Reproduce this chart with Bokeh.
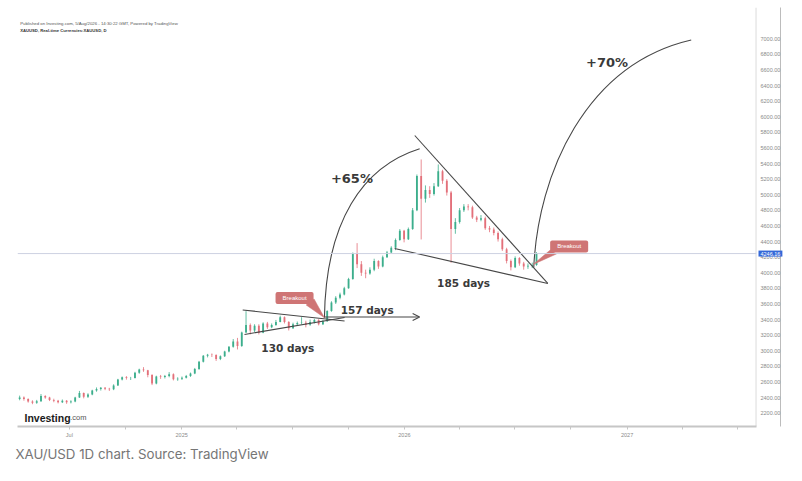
import pandas as pd
from bokeh.plotting import figure
from bokeh.models import (ColumnDataSource, Span, Label, FixedTicker, NumeralTickFormatter,
                          Title, Arrow, OpenHead, Range1d)
from bokeh.embed import file_html
from bokeh.resources import INLINE

# ---------------- data (weekly candles) ----------------
week_start = "2024-04-10 12:00"
first_open = 2380
close = [2400, 2380, 2350, 2335, 2354, 2420, 2400, 2370, 2360, 2341,
         2360, 2340, 2350, 2400, 2460, 2410, 2440, 2490, 2510, 2525,
         2513, 2505, 2555, 2630, 2660, 2650, 2652, 2718, 2760, 2750,
         2690, 2580, 2670, 2665, 2675, 2700, 2635, 2640, 2655, 2675,
         2710, 2765, 2860, 2935, 2950, 2945, 2895, 2930, 2990, 3050,
         3120, 3060, 3235, 3330, 3260, 3320, 3230, 3350, 3300, 3330,
         3370, 3430, 3370, 3290, 3340, 3355, 3360, 3335, 3370, 3395,
         3340, 3380, 3510, 3620, 3680, 3720, 3800, 3920, 4250, 4110,
         4000, 3990, 4040, 4150, 4080, 4200, 4260, 4320, 4420, 4540,
         4430, 4560, 4800, 5240, 4950, 5060, 5010, 5110, 5300, 5180,
         5030, 4560, 4650, 4800, 4850, 4840, 4710, 4680, 4700, 4570,
         4555, 4510, 4430, 4300, 4150, 4070, 4190, 4120, 4080, 4090,
         4100, 4246.16]
high = [2425, 2415, 2390, 2365, 2370, 2445, 2430, 2410, 2385, 2370,
        2375, 2368, 2365, 2410, 2485, 2465, 2455, 2500, 2530, 2535,
        2535, 2525, 2570, 2640, 2670, 2675, 2665, 2730, 2770, 2790,
        2755, 2700, 2680, 2690, 2690, 2726, 2710, 2660, 2670, 2690,
        2720, 2780, 2870, 2945, 2960, 2965, 2955, 2940, 3000, 3060,
        3150, 3165, 3245, 3508, 3350, 3340, 3340, 3365, 3370, 3350,
        3395, 3450, 3440, 3380, 3360, 3375, 3430, 3385, 3400, 3410,
        3405, 3395, 3520, 3635, 3700, 3745, 3820, 3935, 4260, 4380,
        4150, 4040, 4070, 4180, 4160, 4220, 4280, 4340, 4440, 4560,
        4550, 4580, 4830, 5260, 5453, 5120, 5110, 5150, 5389, 5320,
        5200, 5050, 4700, 4830, 4880, 4880, 4860, 4730, 4740, 4720,
        4600, 4580, 4530, 4450, 4320, 4170, 4210, 4200, 4140, 4120,
        4130, 4265]
low = [2365, 2360, 2335, 2315, 2320, 2345, 2385, 2355, 2340, 2325,
       2330, 2320, 2325, 2340, 2395, 2390, 2395, 2430, 2475, 2490,
       2495, 2485, 2495, 2550, 2620, 2630, 2625, 2645, 2705, 2730,
       2660, 2560, 2570, 2640, 2645, 2660, 2620, 2615, 2625, 2645,
       2665, 2700, 2755, 2850, 2915, 2920, 2870, 2880, 2920, 2980,
       3040, 3017, 3050, 3230, 3210, 3240, 3209, 3225, 3280, 3290,
       3320, 3365, 3350, 3260, 3280, 3320, 3340, 3300, 3320, 3350,
       3325, 3330, 3370, 3500, 3600, 3660, 3710, 3795, 3910, 4060,
       3960, 3930, 3975, 4020, 4050, 4070, 4190, 4250, 4290, 4410,
       4390, 4420, 4550, 4790, 4427, 4900, 4960, 4990, 5100, 5140,
       4990, 4128, 4500, 4630, 4780, 4800, 4690, 4650, 4660, 4550,
       4520, 4480, 4400, 4280, 4120, 4030, 4060, 4090, 4040, 4050,
       4060, 4090]
last_price = 4246.16

x_tick_dates = ["2024-07-01", "2024-10-01", "2025-01-01", "2025-04-01", "2025-07-01",
                "2025-10-01", "2026-01-01", "2026-04-01", "2026-07-01", "2026-10-01",
                "2027-01-01", "2027-04-01", "2027-07-01"]
x_tick_labels = ["Jul", "", "2025", "", "", "", "2026", "", "", "", "2027", "", ""]
y_ticks = list(range(2200, 7001, 200))

# annotation geometry (date, price)
tri_top = [("2025-04-11", 3523), ("2025-09-25", 3382)]
tri_bot = [("2025-04-14", 3209), ("2025-09-25", 3427)]
wedge_top = [("2026-01-18", 5760), ("2026-08-24", 3863)]
wedge_bot = [("2025-12-16", 4312), ("2026-08-24", 3863)]
arrow_157 = [("2025-08-23", 3432), ("2026-01-26", 3432)]
arc65 = [("2025-08-23", 3423), ("2025-08-25", 4658), ("2025-10-25", 5363), ("2026-01-26", 5590)]
arc70 = [("2026-08-01", 4068), ("2026-08-08", 5260), ("2026-10-24", 6670), ("2027-04-16", 6985)]
box1 = ("2025-07-05", 3677)
box1_ptr = [("2025-07-24", 3587), ("2025-08-06", 3664), ("2025-08-23", 3423)]
box2 = ("2026-09-28", 4337)
box2_ptr = [("2026-08-28", 4292), ("2026-09-07", 4241), ("2026-07-31", 4107)]
texts = [("+65%", "2025-10-07", 5209, "13px"), ("+70%", "2026-11-29", 6696, "13px"),
         ("130 days", "2025-06-24", 3039, "10.5px"), ("157 days", "2025-11-01", 3517, "10.5px"),
         ("185 days", "2026-04-08", 3869, "10.5px")]
pane_edge = "2027-07-31 12:00"


def ms(s):
    return pd.Timestamp(s).value / 1e6


# ---------------- figure ----------------
p = figure(width=793, height=472, output_backend="svg", toolbar_location=None,
           x_axis_type="datetime", y_axis_location="right",
           x_range=Range1d(ms("2024-04-07"), ms("2027-08-01")),
           y_range=Range1d(2029, 7401),
           min_border_left=17, min_border_right=37, min_border_top=7, min_border_bottom=46)
p.outline_line_color = None
p.grid.visible = False
p.background_fill_color = "white"
p.border_fill_color = "white"

# axes
xa = p.xaxis[0]
tick_ms = [ms(d) for d in x_tick_dates]
xa.ticker = FixedTicker(ticks=tick_ms)
xa.major_label_overrides = {t: l for t, l in zip(tick_ms, x_tick_labels)}
xa.axis_line_color = "#c6c6c6"
xa.axis_line_width = 2
xa.major_tick_line_color = "#c6c6c6"
xa.major_tick_out = 3
xa.major_tick_in = 0
xa.minor_tick_line_color = None
xa.major_label_text_font_size = "5.5px"
xa.major_label_text_color = "#8a8a8a"
xa.major_label_standoff = 2

# price scale: the axis sits on the outer edge of the scale strip,
# its labels are pulled back into the strip
ya = p.yaxis[0]
ya.ticker = FixedTicker(ticks=y_ticks)
ya.formatter = NumeralTickFormatter(format="0.00")
ya.axis_line_color = "#bcbcbc"
ya.major_tick_line_color = None
ya.major_tick_out = 0
ya.major_tick_in = 0
ya.minor_tick_line_color = None
ya.major_label_text_font_size = "5.5px"
ya.major_label_text_color = "#8a8a8a"
ya.major_label_standoff = -20

# pane border next to the price scale
p.add_layout(Span(location=ms(pane_edge), dimension="height", line_color="#c8c8c8", line_width=1))

# last price line
p.add_layout(Span(location=last_price, dimension="width", line_color="#cdd2e2", line_width=1))

# candles
dates = pd.date_range(week_start, periods=len(close), freq="7D")
opens = [first_open] + close[:-1]
up = "#3cae8c"
down = "#e3707a"
colors = [up if c >= o else down for o, c in zip(opens, close)]
src = ColumnDataSource(dict(date=dates, open=opens, close=close, high=high, low=low,
                            top=[max(o, c) for o, c in zip(opens, close)],
                            bottom=[min(o, c) for o, c in zip(opens, close)],
                            color=colors))
p.segment(x0="date", y0="low", x1="date", y1="high", line_color="color", line_width=0.8, source=src)
p.vbar(x="date", width=3 * 86400000, top="top", bottom="bottom",
       fill_color="color", line_color=None, source=src)

# annotations
ann = "#474747"
for seg in (tri_top, tri_bot, wedge_top, wedge_bot):
    p.segment(x0=[ms(seg[0][0])], y0=[seg[0][1]], x1=[ms(seg[1][0])], y1=[seg[1][1]],
              line_color=ann, line_width=1.1)

p.add_layout(Arrow(end=OpenHead(size=7, line_color=ann, line_width=1.1),
                   x_start=ms(arrow_157[0][0]), y_start=arrow_157[0][1],
                   x_end=ms(arrow_157[1][0]), y_end=arrow_157[1][1],
                   line_color=ann, line_width=1.1))

for arc in (arc65, arc70):
    p.bezier(x0=[ms(arc[0][0])], y0=[arc[0][1]], cx0=[ms(arc[1][0])], cy0=[arc[1][1]],
             cx1=[ms(arc[2][0])], cy1=[arc[2][1]], x1=[ms(arc[3][0])], y1=[arc[3][1]],
             line_color=ann, line_width=1.1)

box_fill = "#cf7575"
for ptr in (box1_ptr, box2_ptr):
    p.patch(x=[ms(d) for d, _ in ptr], y=[v for _, v in ptr], fill_color=box_fill,
            line_color=box_fill, line_width=0.5)
for b in (box1, box2):
    p.add_layout(Label(x=ms(b[0]), y=b[1], text="Breakout", text_align="center",
                       text_baseline="middle", text_font="Liberation Sans",
                       text_font_size="6px", text_color="white",
                       background_fill_color=box_fill, padding=(7, 3), border_radius=2))

for t, d, v, fs in texts:
    p.add_layout(Label(x=ms(d), y=v, text=t, text_align="center", text_baseline="middle",
                       text_font="DejaVu Sans", text_font_style="bold", text_font_size=fs,
                       text_color="#3a3a3a"))

# price tag on the price scale (its own panel, right next to the frame)
tag = Label(x=2, y=last_price, x_units="screen", text=f"{last_price:.2f}",
            text_baseline="middle", text_align="left", text_font="Liberation Sans",
            text_font_size="5.5px", text_color="white",
            background_fill_color="#3468d8", padding=(2, 1))
p.add_layout(tag, "right")
p.right = [tag] + [r for r in p.right if r is not tag]

# header lines
p.add_layout(Label(x=2.7, y=403.5, x_units="screen", y_units="screen",
                   text="Published on Investing.com, 5/Aug/2026 - 14:30:22 GMT, Powered by TradingView",
                   text_baseline="middle", text_font="Liberation Sans", text_font_size="4.3px",
                   text_color="#555555"))
p.add_layout(Label(x=2.7, y=396, x_units="screen", y_units="screen",
                   text="XAUUSD, Real-time Currencies:XAUUSD, D",
                   text_baseline="middle", text_font="Liberation Sans", text_font_style="bold",
                   text_font_size="4.2px", text_color="#333333"))

# watermark
p.add_layout(Label(x=7, y=9, x_units="screen", y_units="screen", text="Investing",
                   text_baseline="alphabetic", text_font="Liberation Sans",
                   text_font_style="bold", text_font_size="10.5px", text_color="#1a1a1a"))
p.add_layout(Label(x=52.7, y=9, x_units="screen", y_units="screen", text=".com",
                   text_baseline="alphabetic", text_font="Liberation Sans",
                   text_font_size="7.5px", text_color="#555555"))

# caption
p.add_layout(Title(text="XAU/USD 1D chart. Source: TradingView", align="left",
                   text_font="Inter", text_font_size="13.3px", text_font_style="normal",
                   text_color="#767676", offset=-2, standoff=6), "below")

open("out.html", "w").write(file_html(p, INLINE))
